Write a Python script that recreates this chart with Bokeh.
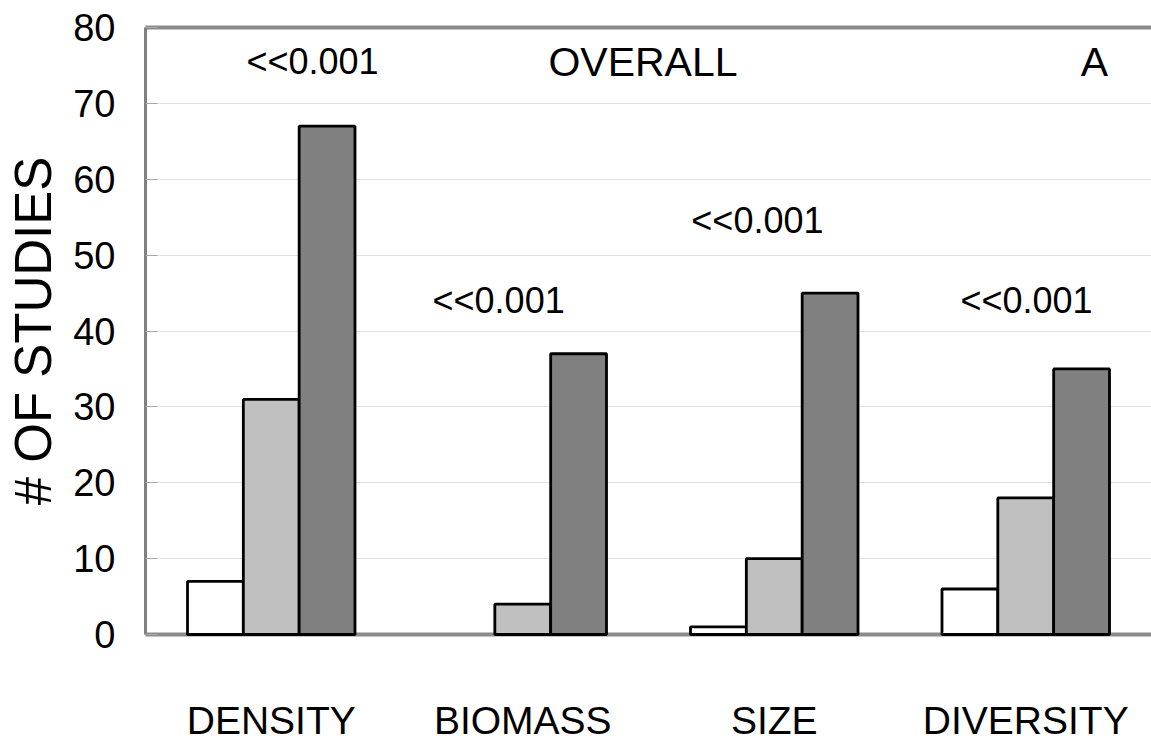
from bokeh.plotting import figure
from bokeh.models import (ColumnDataSource, FactorRange, Range1d, Label, LinearAxis,
                          FixedTicker)
from bokeh.transform import dodge
from bokeh.embed import file_html
from bokeh.resources import INLINE

# ---- data ----
categories = ["DENSITY", "BIOMASS", "SIZE", "DIVERSITY"]
negative = [7, 0, 1, 6]
neutral = [31, 4, 10, 18]
positive = [67, 37, 45, 35]
p_labels = ["<<0.001", "<<0.001", "<<0.001", "<<0.001"]
panel_title = "OVERALL"
panel_letter = "A"
y_ticks = [0, 10, 20, 30, 40, 50, 60, 70, 80]

FONT = "Liberation Sans"

p = figure(x_range=FactorRange(*categories, range_padding=0), y_range=Range1d(0, 80),
           width=1151, height=744, output_backend="svg", toolbar_location=None,
           min_border_left=145, min_border_right=0, min_border_top=27, min_border_bottom=110)
p.outline_line_color = None
p.background_fill_color = "white"
p.border_fill_color = "white"

series = [("negative", negative, "#ffffff", -0.222),
          ("neutral", neutral, "#c0c0c0", 0.0),
          ("positive", positive, "#808080", 0.222)]
for name, vals, color, off in series:
    src = ColumnDataSource(dict(cat=categories, val=vals,
                                la=[0.0 if v == 0 else 1.0 for v in vals]))
    r = p.vbar(x=dodge("cat", off, range=p.x_range), top="val", bottom=0, width=0.222,
               source=src, fill_color=color, line_color="black", line_width=2.8,
               line_alpha="la")
    r.level = "overlay"

# grid
p.xgrid.grid_line_color = None
p.ygrid.ticker = FixedTicker(ticks=y_ticks)
p.ygrid.grid_line_color = "#e2e2e2"
p.ygrid.grid_line_width = 1

# y axis
ya = p.yaxis[0]
ya.ticker = FixedTicker(ticks=y_ticks)
ya.axis_line_color = "#808080"
ya.axis_line_width = 3
ya.major_tick_in = 12
ya.major_tick_out = 0
ya.major_tick_line_color = "#a8a8a8"
ya.minor_tick_line_color = None
ya.major_label_text_font = FONT
ya.major_label_text_font_size = "38px"
ya.major_label_text_color = "black"
ya.major_label_standoff = 30
ya.axis_label = "# OF STUDIES"
ya.axis_label_text_font = FONT
ya.axis_label_text_font_style = "normal"
ya.axis_label_text_font_size = "51px"
ya.axis_label_text_color = "black"
ya.axis_label_standoff = 8

# x axis
xa = p.xaxis[0]
xa.axis_line_color = "#8c8c8c"
xa.axis_line_width = 4
xa.major_tick_line_color = None
xa.minor_tick_line_color = None
xa.major_label_text_font = FONT
xa.major_label_text_font_size = "39px"
xa.major_label_text_color = "black"
xa.major_label_standoff = 58

# top border
top = LinearAxis(ticker=FixedTicker(ticks=[]), axis_line_color="#8c8c8c", axis_line_width=4,
                 major_tick_line_color=None, minor_tick_line_color=None,
                 major_label_text_font_size="0px")
p.add_layout(top, "above")

# annotations
p_pos = [(0.664, 75.5), (1.404, 44.0), (2.433, 54.6), (3.503, 44.0)]
for txt, (x, y) in zip(p_labels, p_pos):
    p.add_layout(Label(x=x, y=y, text=txt, text_align="center", text_baseline="middle",
                       text_font=FONT, text_font_size="36px", text_color="black"))
p.add_layout(Label(x=1.978, y=75.5, text=panel_title, text_align="center",
                   text_baseline="middle", text_font=FONT, text_font_size="41px",
                   text_color="black"))
p.add_layout(Label(x=3.773, y=75.5, text=panel_letter, text_align="center",
                   text_baseline="middle", text_font=FONT, text_font_size="41px",
                   text_color="black"))

open("out.html", "w").write(file_html(p, INLINE))
